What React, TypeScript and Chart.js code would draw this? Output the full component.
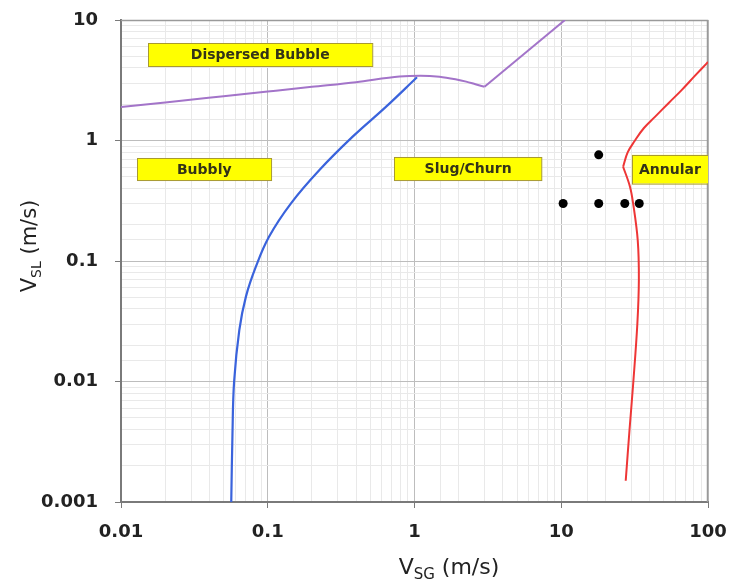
import React, { useEffect, useRef } from "react";
import { Chart, registerables } from "chart.js";

Chart.register(...registerables);

// ---- Axis ranges ----
const xMin = 0.01;
const xMax = 100;
const yMin = 0.001;
const yMax = 10;

// ---- Dispersed bubble boundary (purple) ----
const dispersedCurveX = [0.01, 0.02, 0.05, 0.1, 0.2, 0.4, 0.79, 1.1, 1.48, 1.9, 2.25, 2.6, 3.0];
const dispersedCurveY = [1.9, 2.07, 2.33, 2.55, 2.79, 3.05, 3.4, 3.45, 3.38, 3.22, 3.08, 2.93, 2.79];
const dispersedLineX = [3.0, 10.6];
const dispersedLineY = [2.79, 10];

// ---- Bubbly / slug transition (blue) ----
const bubblyX = [0.0564, 0.0575, 0.059, 0.064, 0.071, 0.083, 0.102, 0.144, 0.225, 0.379, 0.641, 1.04];
const bubblyY = [0.001, 0.0037, 0.01, 0.0267, 0.0506, 0.0897, 0.159, 0.301, 0.569, 1.076, 1.91, 3.35];

// ---- Annular transition (red) ----
const annularLowX = [27.5, 29.2, 31.0, 33.0, 33.8, 33.2, 30.9, 29.4, 26.4];
const annularLowY = [0.0015, 0.004, 0.01, 0.03, 0.07, 0.149, 0.3, 0.414, 0.606];
const annularHighX = [26.4, 28.4, 31.8, 36.6, 43.5, 54, 66.1, 81, 98, 100];
const annularHighY = [0.606, 0.8, 1.0, 1.27, 1.57, 2.05, 2.62, 3.42, 4.37, 4.49];

// ---- Measured points (black) ----
const pointsX = [10.3, 18, 27.1, 34, 18];
const pointsY = [0.3, 0.3, 0.3, 0.3, 0.76];

// ---- Region labels (data coordinates) ----
const regionText = ["Dispersed Bubble", "Bubbly", "Slug/Churn", "Annular"];
const regionX0 = [0.0153, 0.0129, 0.73, 30.3];
const regionX1 = [0.516, 0.1057, 7.36, 100];
const regionYTop = [6.44, 0.716, 0.73, 0.76];
const regionYBottom = [4.15, 0.47, 0.47, 0.44];

const toXY = (xs: number[], ys: number[]) => xs.map((x, i) => ({ x, y: ys[i] }));

const isMajor = (v: any) => {
  if (typeof v !== "number" || v <= 0) return false;
  const l = Math.log10(v);
  return Math.abs(l - Math.round(l)) < 1e-6;
};
const fmt = (v: number) => String(Number(v.toPrecision(1)));

const FONT = "'DejaVu Sans', sans-serif";

const decorPlugin = {
  id: "decor",
  beforeDatasetsDraw(chart: any) {
    const { ctx, chartArea } = chart;
    ctx.save();
    ctx.strokeStyle = "#9a9a9a";
    ctx.lineWidth = 1.5;
    ctx.beginPath();
    ctx.moveTo(chartArea.left, chartArea.top + 0.5);
    ctx.lineTo(chartArea.right - 0.5, chartArea.top + 0.5);
    ctx.lineTo(chartArea.right - 0.5, chartArea.bottom);
    ctx.stroke();
    ctx.restore();
  },
  afterDatasetsDraw(chart: any) {
    const { ctx, scales, chartArea } = chart;
    const xs = scales.x;
    const ys = scales.y;
    ctx.save();
    ctx.beginPath();
    ctx.rect(chartArea.left, chartArea.top, chartArea.right - chartArea.left, chartArea.bottom - chartArea.top);
    ctx.clip();
    regionText.forEach((t, i) => {
      const l = xs.getPixelForValue(regionX0[i]);
      const r = xs.getPixelForValue(regionX1[i]);
      const top = ys.getPixelForValue(regionYTop[i]);
      const bot = ys.getPixelForValue(regionYBottom[i]);
      ctx.fillStyle = "#ffff00";
      ctx.fillRect(l, top, r - l, bot - top);
      ctx.strokeStyle = "#a89a30";
      ctx.lineWidth = 1;
      ctx.strokeRect(Math.round(l) + 0.5, Math.round(top) + 0.5, r - l, bot - top);
      ctx.fillStyle = "#333318";
      ctx.font = `bold 14px ${FONT}`;
      ctx.textAlign = "center";
      ctx.textBaseline = "middle";
      ctx.fillText(t, (l + r) / 2, (top + bot) / 2 + 1);
    });
    ctx.restore();
  },
  afterDraw(chart: any) {
    const { ctx } = chart;
    ctx.save();
    ctx.fillStyle = "#222";
    ctx.textBaseline = "alphabetic";
    ctx.textAlign = "left";
    const drawTitle = (main: string, sub: string, rest: string, cx: number, cy: number, rot: number, size: number) => {
      const big = `${size}px ${FONT}`;
      const small = `${Math.round(size * 0.68)}px ${FONT}`;
      ctx.font = big;
      const w1 = ctx.measureText(main).width;
      const w3 = ctx.measureText(rest).width;
      ctx.font = small;
      const w2 = ctx.measureText(sub).width;
      const total = w1 + w2 + w3;
      ctx.save();
      ctx.translate(cx, cy);
      ctx.rotate(rot);
      let x = -total / 2;
      ctx.font = big;
      ctx.fillText(main, x, 0);
      x += w1;
      ctx.font = small;
      ctx.fillText(sub, x, 5);
      x += w2;
      ctx.font = big;
      ctx.fillText(rest, x, 0);
      ctx.restore();
    };
    drawTitle("V", "SG", " (m/s)", 449, 574, 0, 22);
    drawTitle("V", "SL", " (m/s)", 36, 246, -Math.PI / 2, 21);
    ctx.restore();
  },
};

export default function App() {
  const ref = useRef<HTMLCanvasElement | null>(null);
  useEffect(() => {
    if (!ref.current) return;
    const chart = new Chart(ref.current, {
      type: "scatter",
      data: {
        datasets: [
          {
            data: toXY(pointsX, pointsY),
            showLine: false,
            pointRadius: 4.5,
            pointBackgroundColor: "#000",
            pointBorderWidth: 0,
          },
          {
            data: toXY(dispersedCurveX, dispersedCurveY),
            showLine: true,
            borderColor: "#a374c9",
            borderWidth: 2,
            pointRadius: 0,
            cubicInterpolationMode: "monotone",
          },
          {
            data: toXY(dispersedLineX, dispersedLineY),
            showLine: true,
            borderColor: "#a374c9",
            borderWidth: 2,
            pointRadius: 0,
            tension: 0,
          },
          {
            data: toXY(bubblyX, bubblyY),
            showLine: true,
            borderColor: "#3a63dc",
            borderWidth: 2.2,
            pointRadius: 0,
            tension: 0.4,
          },
          {
            data: toXY(annularLowX, annularLowY),
            showLine: true,
            borderColor: "#ee3636",
            borderWidth: 2,
            pointRadius: 0,
            tension: 0.35,
          },
          {
            data: toXY(annularHighX, annularHighY),
            showLine: true,
            borderColor: "#ee3636",
            borderWidth: 2,
            pointRadius: 0,
            tension: 0.4,
          },
        ],
      },
      options: {
        responsive: false,
        animation: false,
        layout: { padding: { top: 20, right: 23, left: 0, bottom: 0 } },
        plugins: { legend: { display: false }, tooltip: { enabled: false } },
        scales: {
          x: {
            type: "logarithmic",
            min: xMin,
            max: xMax,
            afterFit: (s: any) => {
              s.height = 83;
              s.paddingLeft = 0;
              s.paddingRight = 0;
            },
            border: { color: "#7a7a7a", width: 2 },
            grid: {
              color: (c: any) => (isMajor(c.tick?.value) ? "#bdbdbd" : "#e9e9e9"),
              tickColor: (c: any) => (isMajor(c.tick?.value) ? "#7a7a7a" : "rgba(0,0,0,0)"),
              tickLength: 6,
              lineWidth: 1,
            },
            ticks: {
              autoSkip: false,
              maxRotation: 0,
              padding: 14,
              color: "#222",
              font: { family: FONT, weight: "bold", size: 18 },
              callback: (v: any) => (isMajor(Number(v)) ? fmt(Number(v)) : ""),
            },
          },
          y: {
            type: "logarithmic",
            min: yMin,
            max: yMax,
            afterFit: (s: any) => {
              s.width = 121;
              s.paddingTop = 0;
              s.paddingBottom = 0;
            },
            border: { color: "#7a7a7a", width: 2 },
            grid: {
              color: (c: any) => (isMajor(c.tick?.value) ? "#bdbdbd" : "#e9e9e9"),
              tickColor: (c: any) => (isMajor(c.tick?.value) ? "#7a7a7a" : "rgba(0,0,0,0)"),
              tickLength: 6,
              lineWidth: 1,
            },
            ticks: {
              autoSkip: false,
              padding: 17,
              color: "#222",
              font: { family: FONT, weight: "bold", size: 18 },
              callback: (v: any) => (isMajor(Number(v)) ? fmt(Number(v)) : ""),
            },
          },
        },
      },
      plugins: [decorPlugin],
    } as any);
    return () => chart.destroy();
  }, []);
  return (
    <div style={{ position: "absolute", left: 0, top: 0, width: 731, height: 585, background: "#fff" }}>
      <canvas ref={ref} width={731} height={585} style={{ display: "block" }} />
    </div>
  );
}
